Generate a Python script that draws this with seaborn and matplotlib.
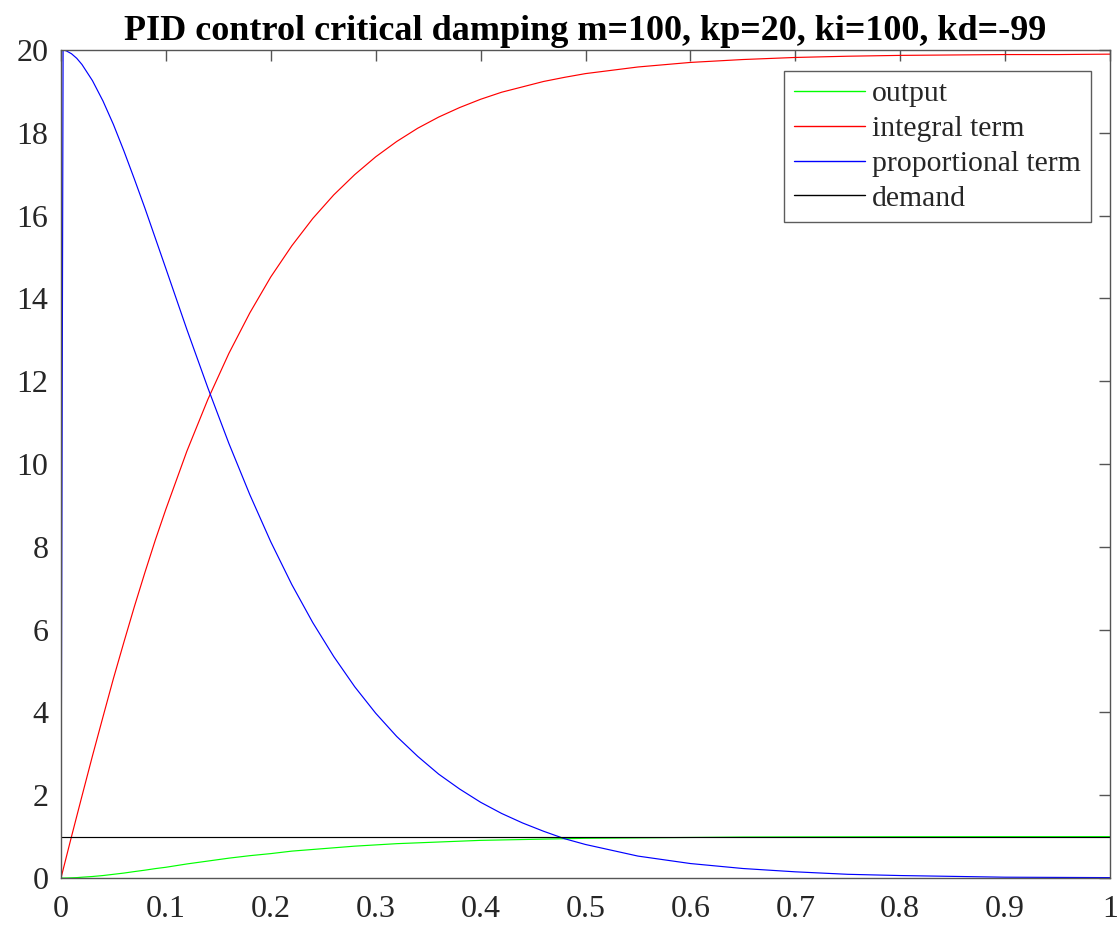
import matplotlib
matplotlib.use("Agg")
import matplotlib.pyplot as plt
import seaborn as sns
import pandas as pd

# ---- data ----
t = [0, 0.002, 0.005, 0.01, 0.015, 0.02, 0.03, 0.04, 0.05, 0.06, 0.07, 0.08, 0.09, 0.10,
     0.12, 0.14, 0.16, 0.18, 0.20, 0.22, 0.24, 0.26, 0.28, 0.30, 0.32, 0.34, 0.36,
     0.38, 0.40, 0.42, 0.44, 0.46, 0.48, 0.50, 0.55, 0.60, 0.65, 0.70, 0.75, 0.80,
     0.85, 0.90, 0.95, 1.00]

output = [0, 0, 0.001, 0.005, 0.010, 0.02, 0.037, 0.06, 0.09, 0.12, 0.156, 0.19, 0.228, 0.26,
          0.34, 0.41, 0.48, 0.54, 0.59, 0.65, 0.69, 0.73, 0.77, 0.80, 0.83, 0.85, 0.87,
          0.89, 0.91, 0.92, 0.93, 0.94, 0.95, 0.96, 0.97, 0.98, 0.99, 0.993, 0.995, 0.997,
          0.998, 0.999, 0.999, 1.0]

integral_term = [0, 0.2, 0.50, 1.0, 1.49, 1.98, 2.95, 3.89, 4.82, 5.70, 6.56, 7.38, 8.17, 8.91,
                 10.31, 11.56, 12.67, 13.65, 14.52, 15.27, 15.93, 16.50, 16.99, 17.42, 17.79, 18.11, 18.38,
                 18.61, 18.81, 18.98, 19.11, 19.24, 19.34, 19.43, 19.59, 19.70, 19.77, 19.82, 19.85, 19.87,
                 19.88, 19.89, 19.89, 19.90]

proportional_term = [0, 20.0, 19.98, 19.91, 19.80, 19.65, 19.26, 18.77, 18.20, 17.56, 16.88, 16.18, 15.45, 14.72,
                     13.25, 11.84, 10.50, 9.26, 8.12, 7.09, 6.17, 5.35, 4.62, 3.98, 3.42, 2.94, 2.51,
                     2.15, 1.83, 1.56, 1.33, 1.13, 0.95, 0.81, 0.53, 0.35, 0.23, 0.15, 0.09, 0.06,
                     0.04, 0.02, 0.015, 0.01]

demand = [1.0] * len(t)

series_names = ["output", "integral term", "proportional term", "demand"]
series_colors = ["#00ff00", "#ff0000", "#0000ff", "#000000"]
x_ticks = [0, 0.1, 0.2, 0.3, 0.4, 0.5, 0.6, 0.7, 0.8, 0.9, 1.0]
x_tick_labels = ["0", "0.1", "0.2", "0.3", "0.4", "0.5", "0.6", "0.7", "0.8", "0.9", "1"]
y_ticks = [0, 2, 4, 6, 8, 10, 12, 14, 16, 18, 20]
title = "PID control critical damping m=100, kp=20, ki=100, kd=-99"

df = pd.concat([
    pd.DataFrame({"t": t, "value": vals, "series": name})
    for name, vals in zip(series_names, [output, integral_term, proportional_term, demand])
], ignore_index=True)

# ---- style ----
sns.set_style("white")
plt.rcParams["font.family"] = ["Liberation Serif", "DejaVu Serif"]

fig = plt.figure(figsize=(11.19, 9.26), dpi=100)
ax = fig.add_axes([0.0545, 0.0518, 0.9375, 0.8942])

sns.lineplot(data=df, x="t", y="value", hue="series", hue_order=series_names,
             palette=dict(zip(series_names, series_colors)), linewidth=0.85,
             sort=False, estimator=None, ax=ax)

ax.set_xlim(0, 1)
ax.set_ylim(0, 20)
ax.set_xticks(x_ticks)
ax.set_xticklabels(x_tick_labels)
ax.set_yticks(y_ticks)
ax.set_xlabel("")
ax.set_ylabel("")
ax.tick_params(axis="both", which="both", direction="in", length=8, width=1.0,
               color="#555555", labelsize=23, labelcolor="#262626",
               top=True, right=True)
ax.tick_params(axis="x", pad=12)
ax.tick_params(axis="y", pad=9)
for s in ax.spines.values():
    s.set_visible(True)
    s.set_color("#555555")
    s.set_linewidth(1.0)

ax.set_title(title, fontsize=26, fontweight="bold", color="black", pad=7)

handles, labels = ax.get_legend_handles_labels()
leg = ax.legend(handles, labels, loc="upper right", bbox_to_anchor=(0.982, 0.975),
                borderaxespad=0, fontsize=21.3, frameon=True, fancybox=False,
                handlelength=2.4, handletextpad=0.25, labelspacing=0.27,
                borderpad=0.34)
leg.get_frame().set_edgecolor("#333333")
leg.get_frame().set_linewidth(1.0)
for line in leg.get_lines():
    line.set_linewidth(1.0)

fig.savefig("out.png", dpi=100)
